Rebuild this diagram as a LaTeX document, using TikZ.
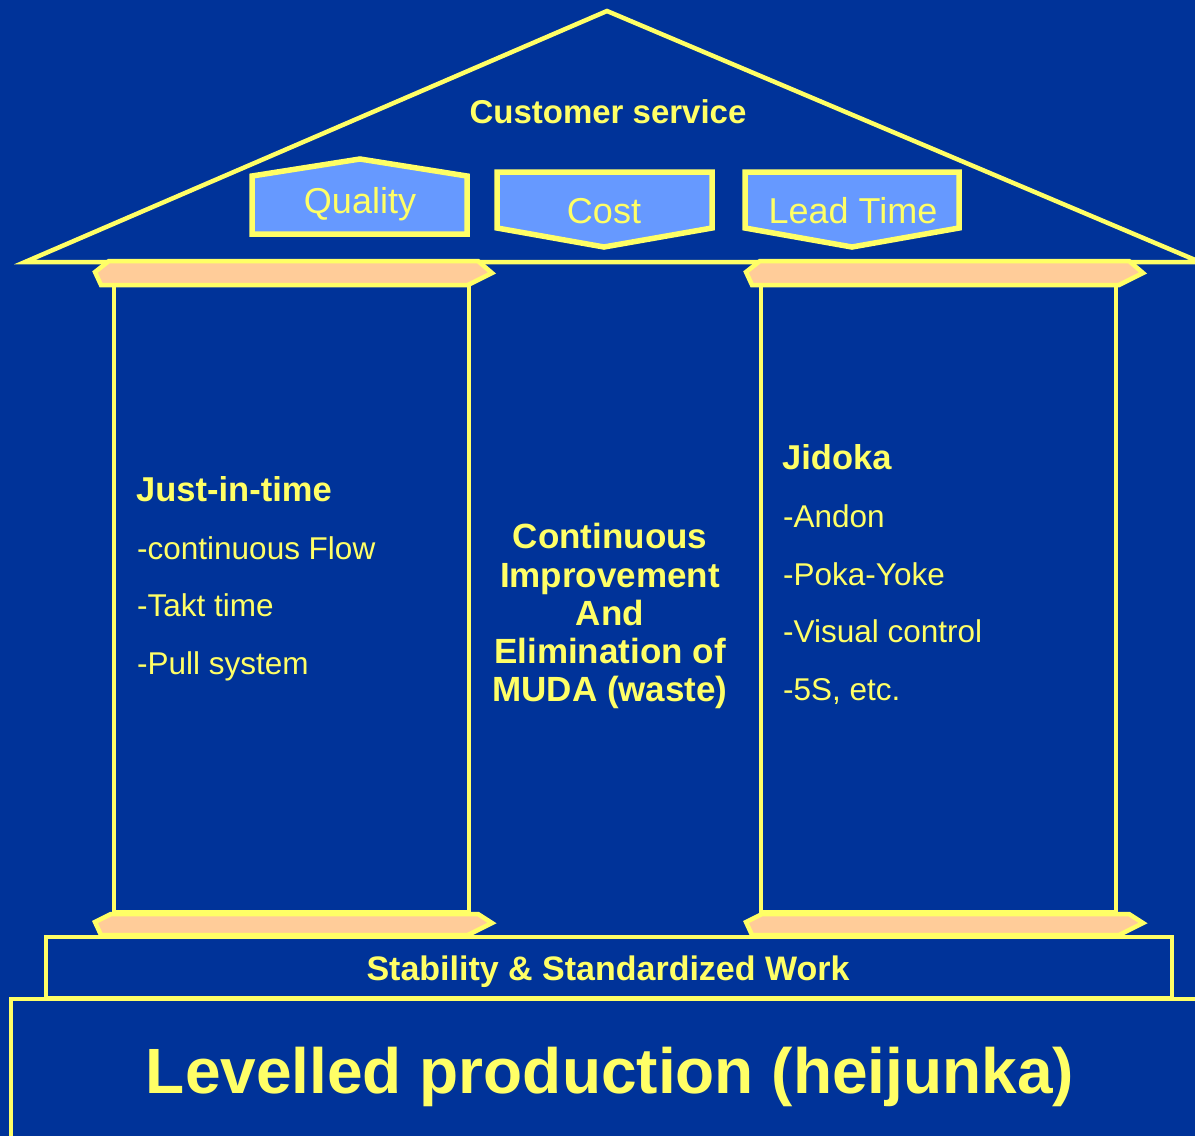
\documentclass[tikz,border=0pt]{standalone}
\usepackage{fontspec}
\setmainfont{Liberation Sans}
\definecolor{housebg}{RGB}{0,51,153}
\definecolor{houseyellow}{RGB}{255,255,102}
\definecolor{capbeige}{RGB}{255,204,153}
\definecolor{boxblue}{RGB}{102,153,255}

\begin{document}
\begin{tikzpicture}[x=1pt,y=-1pt,
    outline/.style={draw=houseyellow, line width=4.5pt},
    capbar/.style={outline, fill=capbeige},
    valuebox/.style={outline, fill=boxblue, line width=5.5pt},
    boldtxt/.style={text=houseyellow, inner sep=0pt, anchor=base, font=\bfseries\fontsize{34}{38}\selectfont},
    plaintxt/.style={text=houseyellow, inner sep=0pt, anchor=base west, font=\fontsize{31.5}{38}\selectfont},
    valuetxt/.style={text=houseyellow, inner sep=0pt, anchor=base, font=\fontsize{36}{40}\selectfont}]

          \fill [housebg] (0,0) rectangle (1195,1136); % Background
          \useasboundingbox (0,0) rectangle (1195,1136);
          \clip (0,0) rectangle (1195,1136);

          % roof
          \draw [outline] (25,262) -- (607,11) -- (1200,262) -- cycle;
          \node [boldtxt, font=\bfseries\fontsize{33}{38}\selectfont] (custsvc) at (608,123) {Customer service};

          % quality, cost, lead time
          \draw [valuebox] (252,176) -- (360,159) -- (467,176) -- (467,234) -- (252,234) -- cycle;
          \node [valuetxt] (quality) at (360,213) {Quality};
          \draw [valuebox] (497,172) -- (712,172) -- (712,228) -- (604,247) -- (497,228) -- cycle;
          \node [valuetxt] (cost) at (604,223) {Cost};
          \draw [valuebox] (745,172) -- (959,172) -- (959,228) -- (852,247) -- (745,228) -- cycle;
          \node [valuetxt] (leadtime) at (853,223) {Lead Time};

          % pillars
          \draw [outline] (114,285) rectangle (469,912); % left pillar
          \draw [outline] (761,285) rectangle (1116,912); % right pillar

          % foundation
          \draw [outline] (46,937) rectangle (1172,998);
          \node [boldtxt] (stability) at (608,980) {Stability \& Standardized Work};
          \draw [outline] (11,999) rectangle (1210,1150);
          \node [boldtxt, font=\bfseries\fontsize{64}{70}\selectfont] (heijunka) at (610,1093) {Levelled production (heijunka)};

          % capitals of the pillars
          \draw [capbar] (109,261) -- (478,261) -- (492,273) -- (468,285) -- (101,285) -- (95,272) -- cycle;
          \draw [capbar] (760,261) -- (1129,261) -- (1143,273) -- (1119,285) -- (752,285) -- (746,272) -- cycle;
          \draw [capbar] (111,914) -- (478,914) -- (492,923) -- (468,935) -- (101,935) -- (95,922) -- cycle;
          \draw [capbar] (762,914) -- (1129,914) -- (1143,923) -- (1119,935) -- (752,935) -- (746,922) -- cycle;

          % left pillar text
          \node [boldtxt, anchor=base west, font=\bfseries\fontsize{34.5}{38}\selectfont] (jit) at (136,501) {Just-in-time};
          \node [plaintxt] (flow) at (137,559) {-continuous Flow};
          \node [plaintxt] (takt) at (137,616) {-Takt time};
          \node [plaintxt] (pull) at (137,674) {-Pull system};

          % middle text
          \node [boldtxt, font=\bfseries\fontsize{35}{38}\selectfont] (contimp) at (610,548) {Continuous};
          \node [boldtxt, font=\bfseries\fontsize{35}{38}\selectfont] (improv) at (610,587) {Improvement};
          \node [boldtxt, font=\bfseries\fontsize{35}{38}\selectfont] (andtxt) at (610,625) {And};
          \node [boldtxt, font=\bfseries\fontsize{35}{38}\selectfont] (elim) at (610,663) {Elimination of};
          \node [boldtxt, font=\bfseries\fontsize{35}{38}\selectfont] (muda) at (610,701) {MUDA (waste)};

          % right pillar text
          \node [boldtxt, anchor=base west, font=\bfseries\fontsize{34.5}{38}\selectfont] (jidoka) at (782,469) {Jidoka};
          \node [plaintxt] (andon) at (783,527) {-Andon};
          \node [plaintxt] (pokayoke) at (783,585) {-Poka-Yoke};
          \node [plaintxt] (visual) at (783,642) {-Visual control};
          \node [plaintxt] (fives) at (783,700) {-5S, etc.};
        \end{tikzpicture}
\end{document}
